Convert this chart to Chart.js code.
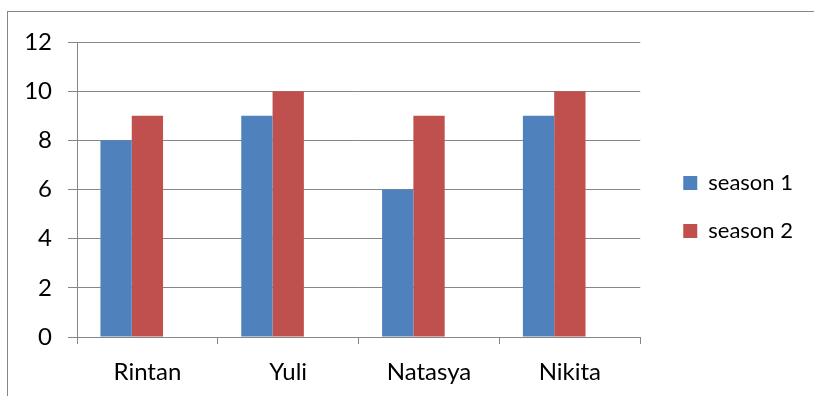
<!DOCTYPE html>
<html>
<head>
<meta charset="utf-8">
<script src="https://cdn.jsdelivr.net/npm/chart.js@4/dist/chart.umd.min.js"></script>
<style>
  html, body { margin: 0; padding: 0; background: #fff; overflow: hidden; width: 814px; height: 396px; }
  #frame { position: absolute; left: 7px; top: 11px; width: 900px; height: 500px; border-left: 1px solid #868686; border-top: 1px solid #868686; }
  #c { position: absolute; left: 0; top: 0; }
</style>
</head>
<body>
<div id="frame"></div>
<canvas id="c" width="814" height="396"></canvas>
<script>
const categories = ["Rintan", "Yuli", "Natasya", "Nikita"];
const season1 = [8, 9, 6, 9];
const season2 = [9, 10, 9, 10];
const yTicks = [0, 2, 4, 6, 8, 10, 12];

const gridColor = "#868686";
const fontFamily = "Lato, 'Liberation Sans', sans-serif";
const fontSize = 24;
const legendFontSize = 22;

new Chart(document.getElementById("c"), {
  type: "bar",
  data: {
    labels: categories,
    datasets: [
      { label: "season 1", data: season1, backgroundColor: "#4F81BD", borderWidth: 0 },
      { label: "season 2", data: season2, backgroundColor: "#C0504D", borderWidth: 0 },
      { label: "", data: [], backgroundColor: "rgba(0,0,0,0)", borderWidth: 0 }
    ]
  },
  options: {
    responsive: false,
    devicePixelRatio: 1,
    animation: false,
    categoryPercentage: 0.667,
    barPercentage: 1,
    layout: { padding: { top: 42, bottom: 0, left: 0, right: 11 } },
    plugins: {
      tooltip: { enabled: false },
      legend: {
        position: "right",
        fullSize: false,
        maxWidth: 300,
        title: { display: true, text: " ", font: { size: 10 }, padding: { top: 23, bottom: 0 } },
        labels: {
          boxWidth: 14,
          boxHeight: 14,
          padding: 26,
          color: "#000",
          font: { family: fontFamily, size: legendFontSize },
          filter: (item) => item.text !== ""
        }
      }
    },
    scales: {
      x: {
        grid: { display: true, drawOnChartArea: false, color: gridColor, tickLength: 7, offset: true },
        border: { display: true, color: gridColor },
        ticks: { color: "#000", padding: 14, font: { family: fontFamily, size: fontSize }, maxRotation: 0 },
        afterFit: (s) => { s.height = 59; }
      },
      y: {
        min: 0,
        max: 12,
        afterBuildTicks: (s) => { s.ticks = yTicks.map(v => ({ value: v })); },
        grid: { color: gridColor, tickLength: 9 },
        border: { display: true, color: gridColor },
        ticks: { color: "#000", padding: 16, font: { family: fontFamily, size: fontSize } },
        afterFit: (s) => { s.width = 77; }
      },
      pad: {
        type: "linear",
        position: "right",
        display: true,
        grid: { display: false, drawTicks: false },
        border: { display: false },
        ticks: { display: false },
        afterFit: (s) => { s.width = 17; }
      }
    }
  }
});
</script>
</body>
</html>
